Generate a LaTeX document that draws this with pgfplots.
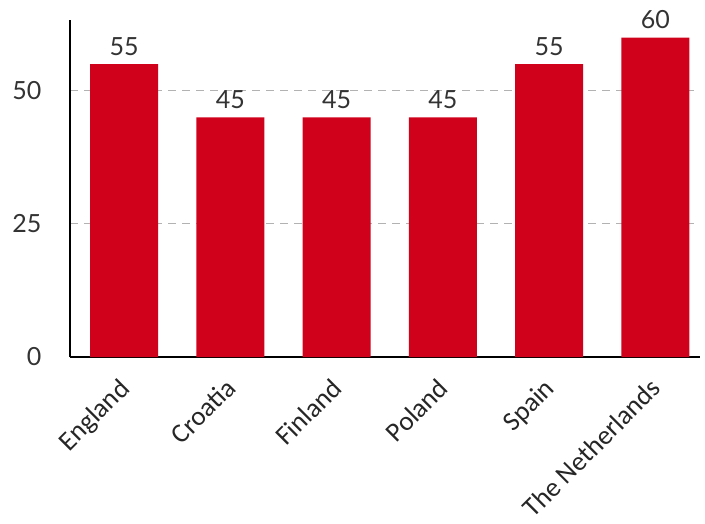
\documentclass[border=0pt]{standalone}
\usepackage{pgfplots}
\pgfplotsset{compat=1.18}
\usepackage{fontspec}
\setmainfont{Lato}
\newfontfamily\carlitofont{Carlito}
\definecolor{barred}{HTML}{D0021B}
\begin{document}
\begin{tikzpicture}
\path (-70pt,-155pt) rectangle (635pt,357pt);
\begin{axis}[
  at={(0pt,0pt)}, anchor=south west,
  scale only axis, width=630pt, height=337pt,
  xmin=-0.51, xmax=5.42, ymin=0, ymax=63.3,
  axis x line*=bottom, axis y line*=left,
  axis line style={black, line width=1.2pt},
  x axis line style={-}, y axis line style={-},
  ytick={0,25,50}, xtick=data,
  xticklabels={England,Croatia,Finland,Poland,Spain,The Netherlands},
  major tick length=0pt,
  ymajorgrids, grid style={gray!60, dash pattern=on 8pt off 6pt, line width=0.9pt},
  /pgf/number format/assume math mode=true,
  yticklabel style={font=\fontsize{25}{29}\selectfont, text=black!80, xshift=-25pt},
  xticklabel style={font=\carlitofont\fontsize{27}{31}\selectfont, text=black!85, rotate=45, anchor=north east, xshift=-15pt, yshift=-6pt},
  ybar, bar width=68pt,
  nodes near coords,
  every node near coord/.append style={font=\fontsize{25}{29}\selectfont, text=black!80, yshift=5pt},
]
\addplot[fill=barred, draw=none] coordinates {(0,55) (1,45) (2,45) (3,45) (4,55) (5,60)};
\end{axis}
\end{tikzpicture}
\end{document}
